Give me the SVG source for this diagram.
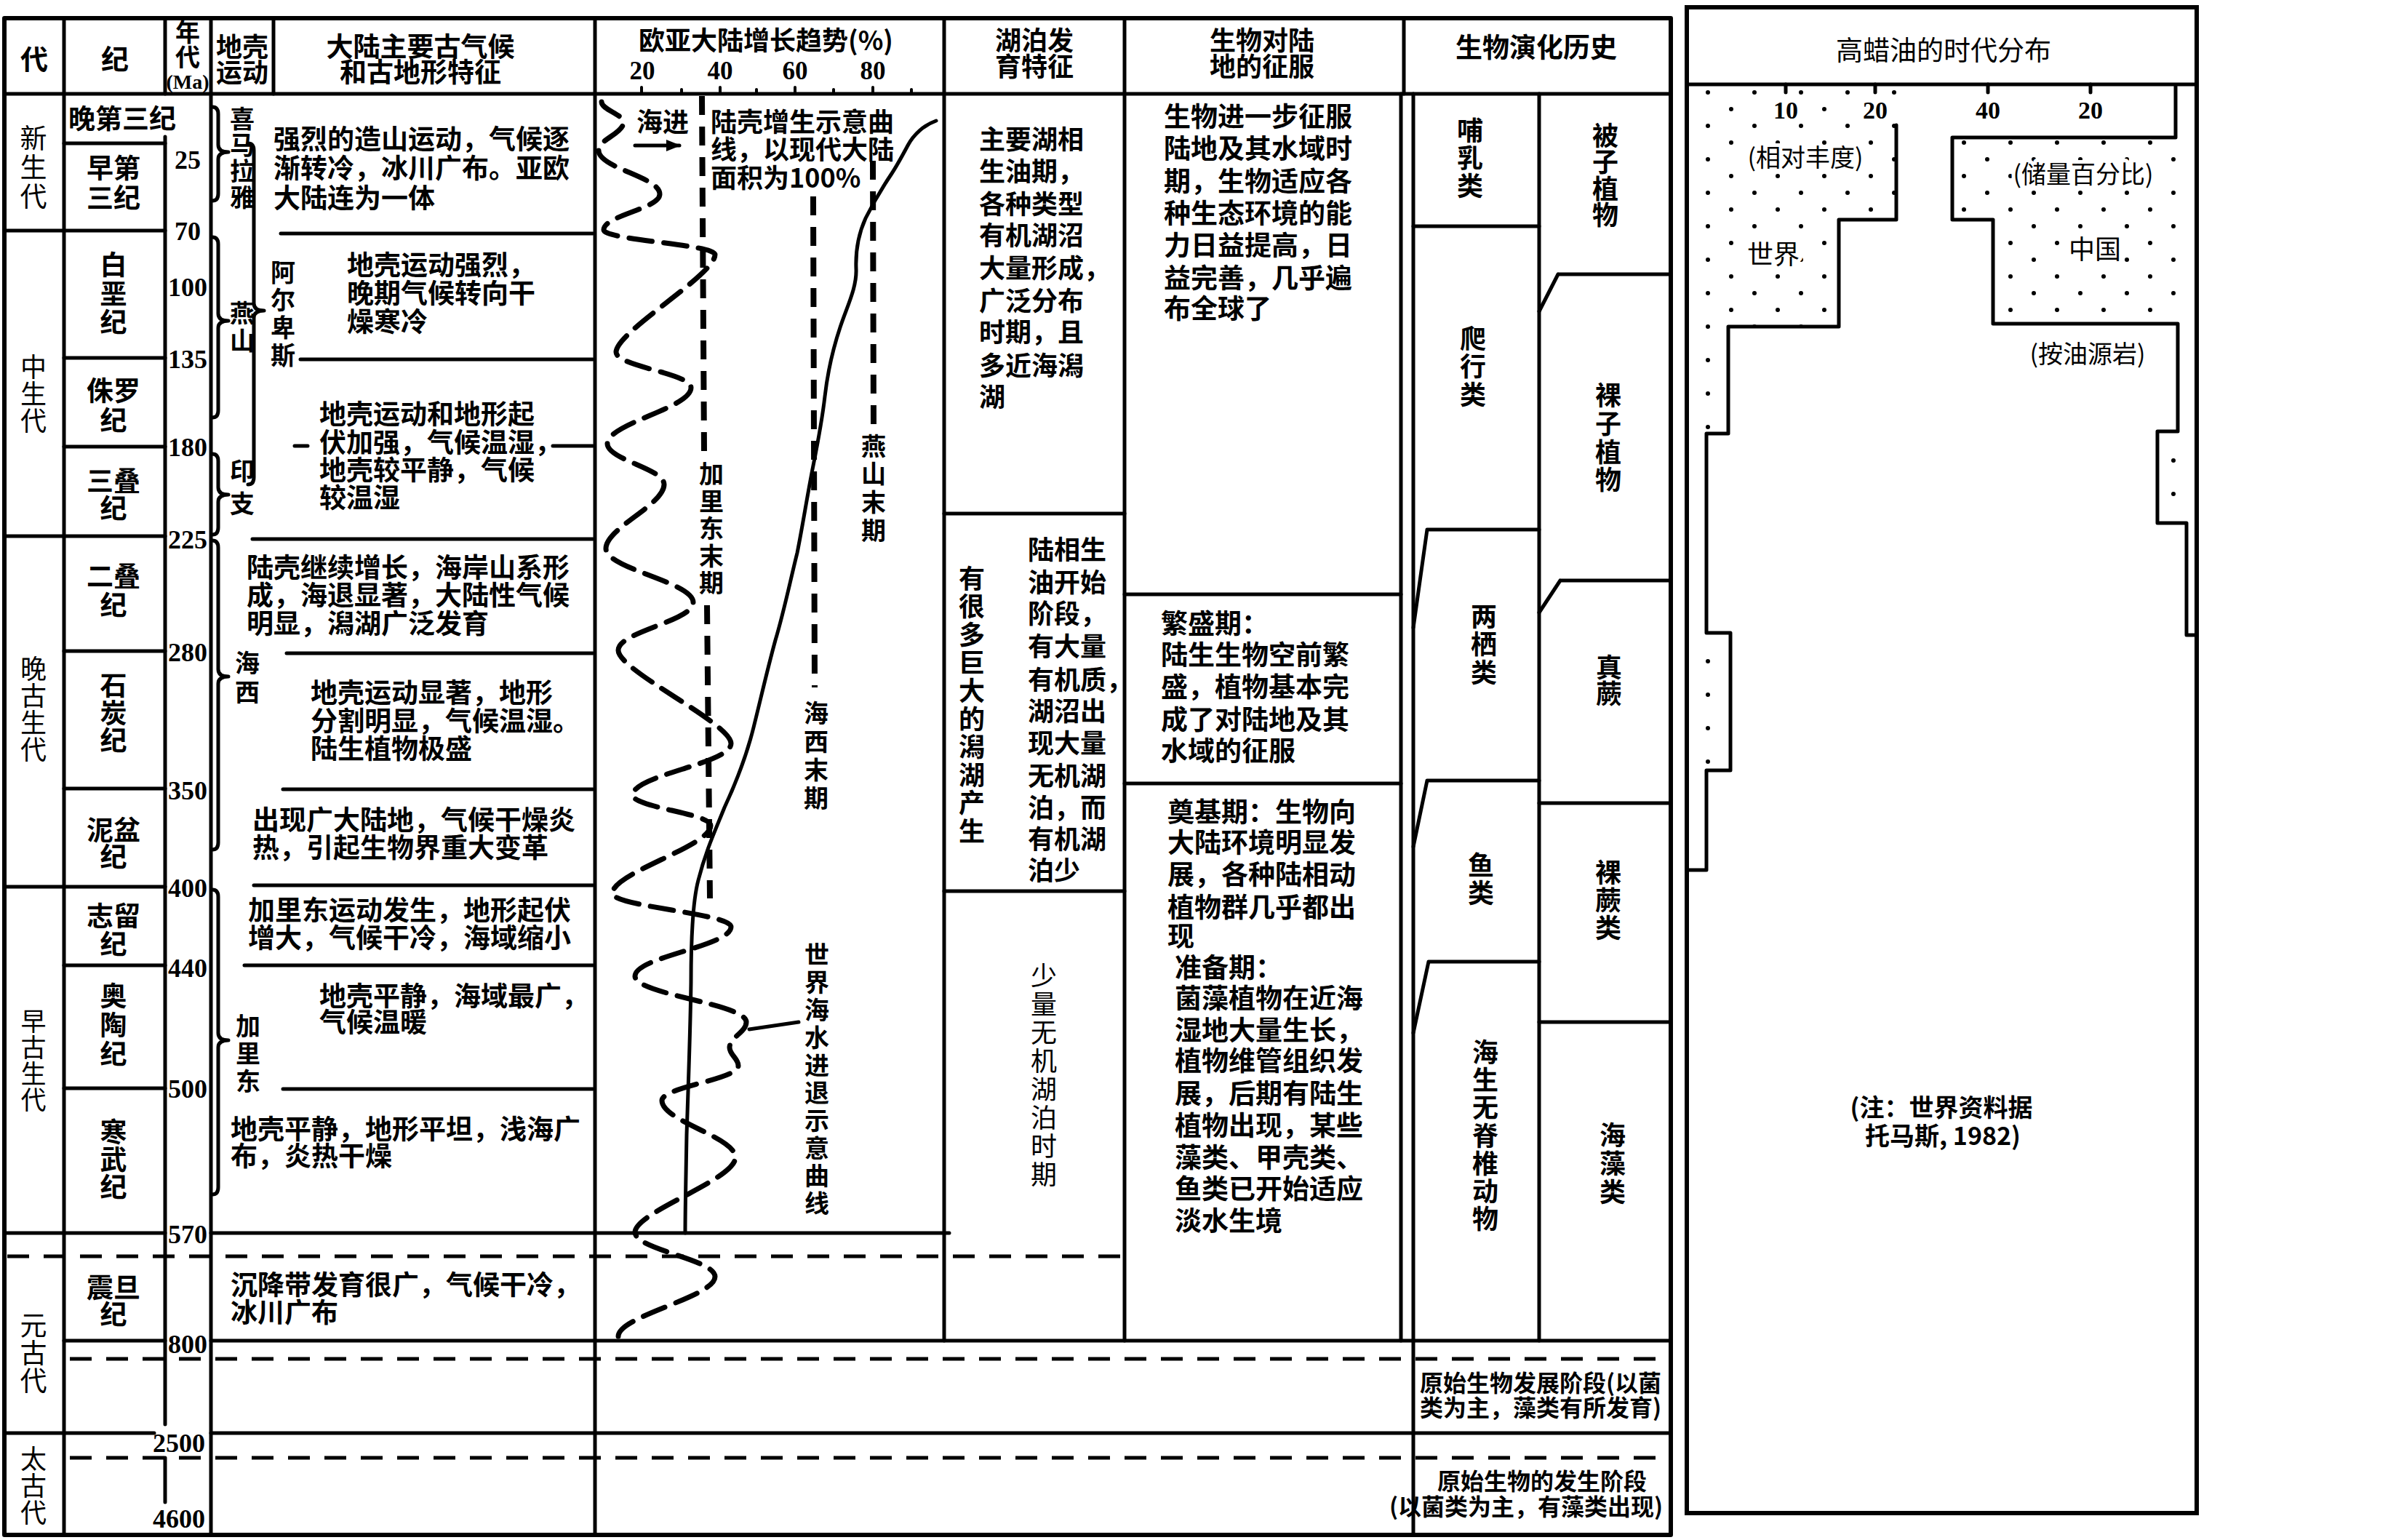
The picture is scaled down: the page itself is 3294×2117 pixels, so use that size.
<svg xmlns="http://www.w3.org/2000/svg" width="3294" height="2117" viewBox="0 0 3294 2117">
<defs>
<style>
text{font-family:"Noto Sans CJK SC","Noto Sans CJK JP",sans-serif;dominant-baseline:central;fill:#000}
.b{font-weight:700}
.r{font-weight:400}
.s38{font-size:38px}
.s37{font-size:37px}
.s36{font-size:36px}
.s34{font-size:34px}
.s32{font-size:32px}
.c{text-anchor:middle}
.v{writing-mode:vertical-rl;text-anchor:middle}
.num{font-family:"Liberation Serif",serif;font-weight:700;font-size:36px;text-anchor:middle}
.ln{stroke:#000;stroke-width:5;fill:none;stroke-linecap:round;stroke-linejoin:round}
.dl{stroke:#000;stroke-width:5;fill:none;stroke-dasharray:30 20}
.pd{stroke:#000;stroke-width:8;fill:none;stroke-dasharray:26 16}
.sea{stroke:#000;stroke-width:7;fill:none;stroke-dasharray:32 16;stroke-linecap:round}
.halo{stroke:#fff;stroke-width:10;paint-order:stroke;stroke-linejoin:round}
</style>
<pattern id="dots" width="64" height="46" patternUnits="userSpaceOnUse">
<circle cx="12" cy="12" r="3"/>
<circle cx="44" cy="35" r="3"/>
</pattern>
<marker id="arr" viewBox="0 0 10 10" refX="9" refY="5" markerWidth="4" markerHeight="4" orient="auto" markerUnits="strokeWidth">
<path d="M0,1 L10,5 L0,9 z"/>
</marker>
</defs>
<rect width="3294" height="2117" fill="#fff"/>

<g id="connectors">
<g id="frame" class="ln">
<rect x="6" y="25" width="2291" height="2085" stroke-width="6"/>
<path d="M6,129H2297"/>
<path d="M88,25V2110 M227,25V129 M227,188V1958 M227,2004V2065 M290,25V2110 M376,25V129 M818,25V2110 M1298,25V1843 M1546,25V1843 M1930,25V129 M1926,129V1843 M1943,129V2110 M2116,129V1843"/>
<path d="M6,317H227 M6,737H227 M6,1219H227 M88,197H227 M88,492H227 M88,614H227 M88,895H227 M88,1084H227 M88,1327H227 M88,1496H227"/>
<path d="M6,1695H227 M290,1695H1305 M88,1843H227 M290,1843H2297 M6,1970H212 M290,1970H2297"/>
<path d="M386,321H815 M413,494H815 M405,613H423 M760,613H815 M347,741H815 M394,898H815 M389,1085H815 M349,1217H815 M336,1327H815 M389,1497H815"/>
<path d="M1298,706H1546 M1298,1225H1546 M1546,817H1926 M1546,1077H1926"/>
<path d="M1943,311H2116 M1962,728H2116 M1962,728L1943,863 M1962,1073H2116 M1962,1073L1943,1164 M1964,1322H2116 M1964,1322L1943,1420 M2142,377H2297 M2142,377L2116,428 M2145,798H2297 M2145,798L2116,842 M2116,1104H2297 M2116,1405H2297"/>
<path stroke-width="4" d="M882,120V129 M937,123V129 M990,120V129 M1040,123V129 M1093,120V129 M1146,123V129 M1200,120V129 M1253,123V129"/>
</g>
<g id="dashed-rows" class="dl">
<path d="M10,1727H1553 M96,1868H2297 M96,2004H2297"/>
</g>
<g id="braces" class="ln">
<path d="M292,147 Q300,147 300,157 L300,199 Q300,209 314,209 Q300,209 300,219 L300,266 Q300,276 292,276"/>
<path d="M292,326 Q300,326 300,336 L300,431 Q300,441 314,441 Q300,441 300,451 L300,564 Q300,574 292,574"/>
<path d="M292,624 Q300,624 300,634 L300,670 Q300,680 314,680 Q300,680 300,690 L300,725 Q300,735 292,735"/>
<path d="M292,743 Q300,743 300,753 L300,920 Q300,930 314,930 Q300,930 300,940 L300,1158 Q300,1168 292,1168"/>
<path d="M292,1223 Q300,1223 300,1233 L300,1420 Q300,1430 314,1430 Q300,1430 300,1440 L300,1632 Q300,1642 292,1642"/>
<path d="M341,197 Q349,197 349,207 L349,417 Q349,427 363,427 Q349,427 349,437 L349,656 Q349,666 341,666"/>
</g>
<g id="curves">
<path class="ln" stroke-width="6" d="M1287,166 C1270,172 1256,185 1248,200 C1240,215 1233,228 1225,240 C1213,258 1200,280 1190,300 C1180,322 1176,345 1177,370 C1178,395 1165,420 1155,450 C1145,480 1138,510 1134,545 C1130,580 1124,610 1118,640 C1110,680 1104,720 1096,760 C1086,800 1078,840 1066,880 C1055,920 1046,960 1036,1000 C1026,1040 1010,1080 996,1110 C984,1140 970,1170 960,1210 C952,1240 950,1290 950,1350 C949,1420 946,1500 944,1560 C943,1620 942,1660 942,1695"/>
<path class="sea" d="M827,140 C827,151 857,157 857,168 C857,184 823,191 823,207 C823,231 907,243 907,267 C907,287 830,296 830,316 C830,330 983,336 983,350 C983,378 847,456 847,484 C847,504 950,513 950,533 C950,561 835,582 835,610 C835,632 913,644 913,666 C913,694 833,726 833,754 C833,782 953,800 953,828 C953,854 850,868 850,894 C850,922 1005,994 1005,1022 C1005,1050 870,1065 870,1093 C870,1110 977,1118 977,1135 C977,1163 842,1200 842,1228 C842,1246 1005,1256 1005,1274 C1005,1301 873,1315 873,1342 C873,1367 1026,1380 1026,1405 C1026,1419 1003,1426 1003,1440 C1003,1450 1015,1455 1015,1465 C1015,1484 910,1494 910,1513 C910,1541 1011,1563 1011,1591 C1011,1622 873,1666 873,1694 C873,1718 983,1731 983,1755 C983,1783 850,1809 850,1837"/>
<path class="pd" d="M965,132 L968,622 M972,832 L976,1235"/>
<path class="pd" d="M1118,270 L1120,945"/>
<path class="pd" d="M1200,221 L1201,590"/>
<path class="ln" d="M1030,1415 L1098,1405"/>
<path class="ln" stroke-width="4" d="M873,200 H934" marker-end="url(#arr)"/>
</g>
</g>

<g id="header">
<text class="s38 b c" x="47" y="78">代</text>
<text class="s38 b c" x="158" y="78">纪</text>
<text class="s34 b v" x="258" y="61">年代</text>
<text class="num" x="258" y="112" style="font-size:28px">(Ma)</text>
<text class="s36 b c" x="333" y="62">地壳</text>
<text class="s36 b c" x="333" y="97">运动</text>
<text class="s37 b c" x="578" y="62">大陆主要古气候</text>
<text class="s37 b c" x="578" y="97">和古地形特征</text>
<text class="s36 b c" x="1053" y="53">欧亚大陆增长趋势(%)</text>
<text class="num" x="883" y="97" style="font-size:35px">20</text>
<text class="num" x="990" y="97" style="font-size:35px">40</text>
<text class="num" x="1093" y="97" style="font-size:35px">60</text>
<text class="num" x="1200" y="97" style="font-size:35px">80</text>
<text class="s36 b c" x="1422" y="53">湖泊发</text>
<text class="s36 b c" x="1422" y="89">育特征</text>
<text class="s36 b c" x="1735" y="53">生物对陆</text>
<text class="s36 b c" x="1735" y="89">地的征服</text>
<text class="s37 b c" x="2112" y="63">生物演化历史</text>
</g>

<g id="eras" class="r v">
<text x="46" y="231" style="font-size:37px;letter-spacing:3px">新生代</text>
<text x="46" y="542" style="font-size:36px;letter-spacing:1px">中生代</text>
<text x="46" y="975" style="font-size:36px;letter-spacing:1px">晚古生代</text>
<text x="46" y="1458" style="font-size:35px;letter-spacing:1px">早古生代</text>
<text x="46" y="1860" style="font-size:37px;letter-spacing:1px">元古代</text>
<text x="46" y="2043" style="font-size:36px;letter-spacing:1px">太古代</text>
</g>

<g id="periods" class="s37 b">
<text class="c" x="168" y="161">晚第三纪</text>
<text class="c" x="156" y="229">早第</text><text class="c" x="156" y="270">三纪</text>
<text class="v" x="156" y="405" style="letter-spacing:2.5px">白垩纪</text>
<text class="c" x="156" y="535">侏罗</text><text class="c" x="156" y="576">纪</text>
<text class="c" x="156" y="659">三叠</text><text class="c" x="156" y="697">纪</text>
<text class="c" x="156" y="790">二叠</text><text class="c" x="156" y="830">纪</text>
<text class="v" x="156" y="980" style="letter-spacing:1px">石炭纪</text>
<text class="c" x="156" y="1139">泥盆</text><text class="c" x="156" y="1176">纪</text>
<text class="c" x="156" y="1257">志留</text><text class="c" x="156" y="1296">纪</text>
<text class="v" x="156" y="1410" style="letter-spacing:3px">奥陶纪</text>
<text class="v" x="156" y="1594" style="letter-spacing:1px">寒武纪</text>
<text class="c" x="156" y="1768">震旦</text><text class="c" x="156" y="1805">纪</text>
</g>

<g id="ages">
<text class="num" x="258" y="220">25</text>
<text class="num" x="258" y="318">70</text>
<text class="num" x="258" y="395">100</text>
<text class="num" x="258" y="494">135</text>
<text class="num" x="258" y="615">180</text>
<text class="num" x="258" y="742">225</text>
<text class="num" x="258" y="897">280</text>
<text class="num" x="258" y="1087">350</text>
<text class="num" x="258" y="1221">400</text>
<text class="num" x="258" y="1331">440</text>
<text class="num" x="258" y="1497">500</text>
<text class="num" x="258" y="1697">570</text>
<text class="num" x="258" y="1848">800</text>
<text class="num" x="246" y="1984">2500</text>
<text class="num" x="246" y="2088">4600</text>
</g>

<g id="orogeny" class="s34 b v">
<text x="333" y="218" style="letter-spacing:2px">喜马拉雅</text>
<text x="333" y="451" style="letter-spacing:4px">燕山</text>
<text x="333" y="675" style="letter-spacing:11px">印支</text>
<text x="389" y="433" style="letter-spacing:4px">阿尔卑斯</text>
<text x="340" y="934" style="letter-spacing:6px">海西</text>
<text x="341" y="1450" style="letter-spacing:4px">加里东</text>
</g>

<g id="climate" class="s37 b">
<text x="376" y="189">强烈的造山运动，气候逐</text>
<text x="376" y="229">渐转冷，冰川广布。亚欧</text>
<text x="376" y="270">大陆连为一体</text>
<text x="477" y="362">地壳运动强烈，</text>
<text x="477" y="401">晚期气候转向干</text>
<text x="477" y="440">燥寒冷</text>
<text x="439" y="567">地壳运动和地形起</text>
<text x="439" y="606">伏加强，气候温湿，</text>
<text x="439" y="644">地壳较平静，气候</text>
<text x="439" y="682">较温湿</text>
<text x="339" y="778">陆壳继续增长，海岸山系形</text>
<text x="339" y="816">成，海退显著，大陆性气候</text>
<text x="339" y="855">明显，潟湖广泛发育</text>
<text x="427" y="950">地壳运动显著，地形</text>
<text x="427" y="989">分割明显，气候温湿。</text>
<text x="427" y="1027">陆生植物极盛</text>
<text x="347" y="1125">出现广大陆地，气候干燥炎</text>
<text x="347" y="1163">热，引起生物界重大变革</text>
<text x="341" y="1249">加里东运动发生，地形起伏</text>
<text x="341" y="1287">增大，气候干冷，海域缩小</text>
<text x="439" y="1367">地壳平静，海域最广，</text>
<text x="439" y="1403">气候温暖</text>
<text x="317" y="1550">地壳平静，地形平坦，浅海广</text>
<text x="317" y="1587">布，炎热干燥</text>
<text x="317" y="1764">沉降带发育很广，气候干冷，</text>
<text x="317" y="1802">冰川广布</text>
</g>

<g id="growth" class="s36 b">
<text class="c" x="911" y="165">海进</text>
<text x="977" y="165">陆壳增生示意曲</text>
<text x="977" y="203">线，以现代大陆</text>
<text x="977" y="242">面积为100%</text>
<text class="v s34" x="978" y="728" style="letter-spacing:3.5px">加里东末期</text>
<text class="v s34" x="1122" y="1041" style="letter-spacing:5px">海西末期</text>
<text class="v s34" x="1201" y="673" style="letter-spacing:4.7px">燕山末期</text>
<text class="v s34" x="1123" y="1485" style="letter-spacing:4px">世界海水进退示意曲线</text>
</g>

<g id="lakes" class="s36 b">
<text x="1346" y="189">主要湖相</text>
<text x="1346" y="233">生油期，</text>
<text x="1346" y="278">各种类型</text>
<text x="1346" y="321">有机湖沼</text>
<text x="1346" y="366">大量形成，</text>
<text x="1346" y="411">广泛分布</text>
<text x="1346" y="454">时期，且</text>
<text x="1346" y="500">多近海潟</text>
<text x="1346" y="543">湖</text>
<text x="1413" y="753">陆相生</text>
<text x="1413" y="798">油开始</text>
<text x="1413" y="841">阶段，</text>
<text x="1413" y="886">有大量</text>
<text x="1413" y="932">有机质，</text>
<text x="1413" y="975">湖沼出</text>
<text x="1413" y="1019">现大量</text>
<text x="1413" y="1064">无机湖</text>
<text x="1413" y="1108">泊，而</text>
<text x="1413" y="1151">有机湖</text>
<text x="1413" y="1194">泊少</text>
<text class="v" x="1336" y="970" style="letter-spacing:2.6px">有很多巨大的潟湖产生</text>
<text class="v r" x="1435" y="1479" style="letter-spacing:3px">少量无机湖泊时期</text>
</g>

<g id="conquest" class="s37 b">
<text x="1600" y="158">生物进一步征服</text>
<text x="1600" y="202">陆地及其水域时</text>
<text x="1600" y="247">期，生物适应各</text>
<text x="1600" y="291">种生态环境的能</text>
<text x="1600" y="335">力日益提高，日</text>
<text x="1600" y="380">益完善，几乎遍</text>
<text x="1600" y="422">布全球了</text>
<text x="1596" y="855">繁盛期：</text>
<text x="1596" y="898">陆生生物空前繁</text>
<text x="1596" y="942">盛，植物基本完</text>
<text x="1596" y="987">成了对陆地及其</text>
<text x="1596" y="1030">水域的征服</text>
<text x="1605" y="1114">奠基期：生物向</text>
<text x="1605" y="1156">大陆环境明显发</text>
<text x="1605" y="1200">展，各种陆相动</text>
<text x="1605" y="1245">植物群几乎都出</text>
<text x="1605" y="1285">现</text>
<text x="1615" y="1328">准备期：</text>
<text x="1615" y="1370">菌藻植物在近海</text>
<text x="1615" y="1414">湿地大量生长，</text>
<text x="1615" y="1456">植物维管组织发</text>
<text x="1615" y="1501">展，后期有陆生</text>
<text x="1615" y="1545">植物出现，某些</text>
<text x="1615" y="1589">藻类、甲壳类、</text>
<text x="1615" y="1632">鱼类已开始适应</text>
<text x="1615" y="1676">淡水生境</text>
</g>

<g id="evolution" class="s36 b v">
<g id="mammals"><text x="2021" y="218" style="letter-spacing:2px">哺乳类</text></g>
<g id="angiosperms"><text x="2207" y="241" style="letter-spacing:0.5px">被子植物</text></g>
<g id="reptiles"><text x="2025" y="505" style="letter-spacing:2.5px">爬行类</text></g>
<g id="gymnosperms"><text x="2211" y="603" style="letter-spacing:2.7px">裸子植物</text></g>
<g id="amphibians"><text x="2040" y="887" style="letter-spacing:2.5px">两栖类</text></g>
<g id="ferns"><text x="2212" y="935" style="letter-spacing:0px">真蕨</text></g>
<g id="fishes"><text x="2036" y="1209" style="letter-spacing:2px">鱼类</text></g>
<g id="psilophytes"><text x="2211" y="1238" style="letter-spacing:2px">裸蕨类</text></g>
<g id="invertebrates"><text x="2042" y="1562" style="letter-spacing:2.2px">海生无脊椎动物</text></g>
<g id="algae"><text x="2217" y="1601" style="letter-spacing:3px">海藻类</text></g>
</g>

<g id="primitive" class="s32 b">
<text x="1952" y="1899">原始生物发展阶段(以菌</text>
<text x="1952" y="1933">类为主，藻类有所发育)</text>
<text class="c" x="2120" y="2034">原始生物的发生阶段</text>
<text class="c" x="2098" y="2069">(以菌类为主，有藻类出现)</text>
</g>

<g id="wax-panel">
<rect x="2319" y="10" width="701" height="2070" fill="none" stroke="#000" stroke-width="6"/>
<path d="M2322,119 H2607 V302 H2528 V449 H2376 V596 H2346 V870 H2379 V1059 H2346 V1196 H2322 Z" fill="url(#dots)"/>
<path d="M3017,119 H2991 V189 H2684 V302 H2740 V445 H2994 V593 H2966 V719 H3006 V873 H3017 Z" fill="url(#dots)"/>
<path class="ln" stroke-width="6" d="M2319,116 H3020"/>
<path class="ln" stroke-width="4" d="M2455,116V127 M2578,116V127 M2733,116V127 M2874,116V127"/>
<path class="ln" stroke-width="6" d="M2607,172 V302 H2528 V449 H2376 V596 H2346 V870 H2379 V1059 H2346 V1196 H2319"/>
<path class="ln" stroke-width="6" d="M2991,119 V189 H2684 V302 H2740 V445 H2994 V593 H2966 V719 H3006 V873 H3020"/>
<text class="s37 r c" x="2672" y="67">高蜡油的时代分布</text>
<text class="num halo" x="2455" y="151" style="font-size:34px">10</text>
<text class="num halo" x="2578" y="151" style="font-size:34px">20</text>
<text class="num halo" x="2733" y="151" style="font-size:34px">40</text>
<text class="num halo" x="2874" y="151" style="font-size:34px">20</text>
<text class="s34 r c halo" x="2482" y="214">(相对丰度)</text>
<text class="s34 r c halo" x="2864" y="237">(储量百分比)</text>
<text class="s36 r c halo" x="2438" y="347">世界</text>
<text class="s36 r c halo" x="2880" y="340">中国</text>
<text class="s34 r c" x="2870" y="484">(按油源岩)</text>
<text class="s34 b c" x="2669" y="1520">(注：世界资料据</text>
<text class="s34 b c" x="2671" y="1559">托马斯, 1982)</text>
</g>
</svg>
